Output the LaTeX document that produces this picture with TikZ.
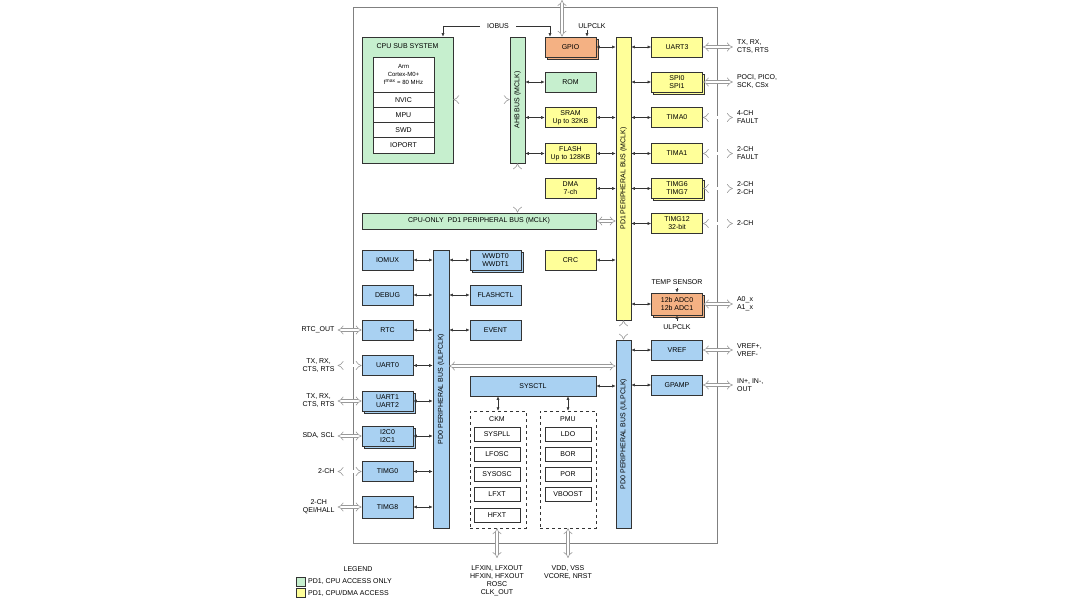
\documentclass[tikz,border=0pt]{standalone}
\usepackage{fontspec}
\setmainfont{Liberation Sans}
\usetikzlibrary{arrows.meta,shadows}
\definecolor{cg}{HTML}{C6EFCE}
\definecolor{cy}{HTML}{FFFF99}
\definecolor{co}{HTML}{F4B183}
\definecolor{cb}{HTML}{A9D1F2}
\definecolor{ln}{HTML}{333333}
\begin{document}
\begin{tikzpicture}[x=1pt,y=-1pt,font=\fontsize{7}{8}\selectfont,
 blk/.style={draw=ln,line width=0.7pt,inner sep=0pt,align=center,minimum width=51pt,minimum height=20pt},
 stk/.style={blk,copy shadow={shadow xshift=2pt,shadow yshift=-2pt,draw=ln,fill=#1},fill=#1},
 sub/.style={draw=ln,line width=0.6pt,fill=white,minimum width=46pt,minimum height=14pt,inner sep=0pt},
 bus/.style={draw=ln,line width=0.7pt,minimum width=15pt,inner sep=0pt},
 sa/.style={{Latex[length=3.5pt,width=3pt]}-{Latex[length=3.5pt,width=3pt]},line width=0.5pt,draw=ln},
 da/.style={draw=gray!80,double=white,double distance=2.5pt,line width=0.6pt,{Implies}-{Implies}},
 ea/.style={-{Latex[length=3.5pt,width=3pt]},line width=0.5pt,draw=ln},
 lbl/.style={align=left,anchor=west,inner sep=0pt}]
\useasboundingbox (0,0) rectangle (1076,601);
\node[draw=gray,line width=0.7pt,minimum width=364pt,minimum height=536pt,inner sep=0pt] (frame) at (535,275) {};
% CPU subsystem
\node[blk,fill=cg,minimum width=91pt,minimum height=126pt] (cpu) at (407.5,100) {};
\node at (407.5,46) {CPU SUB SYSTEM};
\node[sub,minimum width=61pt,minimum height=35pt,align=center,font=\fontsize{6}{8}\selectfont] (arm) at (403.5,74.5) {Arm\\Cortex-M0+\\f\textsuperscript{max} = 80 MHz};
\node[sub,minimum width=61pt,minimum height=15.25pt] (nvic) at (403.5,99.6) {NVIC};
\node[sub,minimum width=61pt,minimum height=15.25pt] (mpu) at (403.5,114.9) {MPU};
\node[sub,minimum width=61pt,minimum height=15.25pt] (swd) at (403.5,130.1) {SWD};
\node[sub,minimum width=61pt,minimum height=15.25pt] (ioport) at (403.5,145.4) {IOPORT};
% AHB
\node[bus,fill=cg,minimum height=126pt] (ahb) at (517.5,100) {};
\node[rotate=90] at (517.5,100) {AHB BUS (MCLK)};
\draw[da] (cpu.east|-nvic) -- (ahb.west|-nvic);
% memory column
\node[stk=co] (gpio) at (570.5,47) {GPIO};
\node[blk,fill=cg] (rom) at (570.5,82) {ROM};
\node[blk,fill=cy] (sram) at (570.5,117.5) {SRAM\\Up to 32KB};
\node[blk,fill=cy] (flash) at (570.5,153.5) {FLASH\\Up to 128KB};
\node[blk,fill=cy] (dma) at (570.5,188.5) {DMA\\7-ch};
\node[blk,fill=cy] (crc) at (570.5,260) {CRC};
\draw[sa] (ahb.east|-rom) -- (rom.west);
\draw[sa] (ahb.east|-sram) -- (sram.west);
\draw[sa] (ahb.east|-flash) -- (flash.west);
% IOBUS
\coordinate (io1) at (443,26); \coordinate (io2) at (550,26);
\draw[ln,line width=0.5pt] (io1) -- (480,26) (516,26) -- (io2);
\node (iobus) at (498,26) {IOBUS};
\draw[ea] (io1) -- (io1|-cpu.north);
\draw[ea] (io2) -- (io2|-gpio.north);
\coordinate (gtop) at (562,0);
\draw[da] (gtop) -- (gtop|-gpio.north);
\node (ulp1) at (592,26) {ULPCLK};
\coordinate (u1) at (587,30);
\draw[ea] (u1) -- (u1|-gpio.north);
% CPU-only bus
\node[blk,fill=cg,minimum width=234pt,minimum height=16pt] (cpub) at (479,221) {CPU-ONLY \ PD1 PERIPHERAL BUS (MCLK)};
\draw[da] (ahb.south) -- (ahb.south|-cpub.north);
% PD1 bus
\node[bus,fill=cy,minimum height=283pt] (pd1) at (623.5,178.5) {};
\node[rotate=90] at (623.5,178.5) {PD1 PERIPHERAL BUS (MCLK)};
\draw[da] (cpub.east) -- (pd1.west|-cpub.east);
\foreach \n in {gpio,sram,flash,dma,crc} \draw[sa] (\n.east) -- (pd1.west|-\n.east);
% right peripherals
\node[blk,fill=cy] (uart3) at (677,47) {UART3};
\node[stk=cy] (spi) at (677,82) {SPI0\\SPI1};
\node[blk,fill=cy] (tima0) at (677,117.5) {TIMA0};
\node[blk,fill=cy] (tima1) at (677,153.5) {TIMA1};
\node[stk=cy] (timg6) at (677,188.5) {TIMG6\\TIMG7};
\node[blk,fill=cy] (timg12) at (677,223.5) {TIMG12\\32-bit};
\node[stk=co,minimum height=22pt] (adc) at (677,304) {12b ADC0\\12b ADC1};
\node (temp) at (677,282) {TEMP SENSOR};
\node (ulp2) at (677,327) {ULPCLK};
\draw[ea] (temp.south) -- (adc.north);
\draw[ea] (ulp2.north) -- (adc.south);
\foreach \n in {uart3,spi,tima0,tima1,timg6,timg12,adc} \draw[sa] (pd1.east|-\n.west) -- (\n.west);
% PD0 right bus
\node[bus,fill=cb,minimum height=188pt] (pd0r) at (623.5,434) {};
\node[rotate=90] at (623.5,434) {PD0 PERIPHERAL BUS (ULPCLK)};
\draw[da] (pd1.south) -- (pd0r.north);
\node[blk,fill=cb] (vref) at (677,350) {VREF};
\node[blk,fill=cb] (gpamp) at (677,385) {GPAMP};
\draw[sa] (pd0r.east|-vref) -- (vref.west);
\draw[sa] (pd0r.east|-gpamp) -- (gpamp.west);
% right external
\foreach \n/\t in {uart3/{TX, RX,\\CTS, RTS},spi/{POCI, PICO,\\SCK, CSx},tima0/{4-CH\\FAULT},tima1/{2-CH\\FAULT},timg6/{2-CH\\2-CH},timg12/{2-CH},adc/{A0\_x\\A1\_x},vref/{VREF+,\\VREF-},gpamp/{IN+, IN-,\\OUT}}{
 \coordinate (r\n) at ([xshift=30pt]\n.east);
 \draw[da] (\n.east) -- (r\n);
 \node[lbl] at ([xshift=4pt]r\n) {\t};}
% PD0 left bus
\node[bus,fill=cb,minimum height=278pt,minimum width=16pt] (pd0l) at (441,389) {};
\node[rotate=90] at (441,389) {PD0 PERIPHERAL BUS (ULPCLK)};
\coordinate (h1) at (449,366);
\draw[da] (h1) -- (pd0r.west|-h1);
% left blocks
\node[blk,fill=cb] (iomux) at (387.5,260) {IOMUX};
\node[blk,fill=cb] (debug) at (387.5,295) {DEBUG};
\node[blk,fill=cb] (rtc) at (387.5,330) {RTC};
\node[blk,fill=cb] (uart0) at (387.5,365.5) {UART0};
\node[stk=cb] (uart1) at (387.5,401) {UART1\\UART2};
\node[stk=cb] (i2c) at (387.5,436) {I2C0\\I2C1};
\node[blk,fill=cb] (timg0) at (387.5,471.5) {TIMG0};
\node[blk,fill=cb,minimum height=22pt] (timg8) at (387.5,507) {TIMG8};
\foreach \n in {iomux,debug,rtc,uart0,uart1,i2c,timg0,timg8} \draw[sa] (\n.east) -- (pd0l.west|-\n.east);
\foreach \n/\t in {rtc/{RTC\_OUT},uart0/{TX, RX,\\CTS, RTS},uart1/{TX, RX,\\CTS, RTS},i2c/{SDA, SCL},timg0/{2-CH},timg8/{2-CH\\QEI/HALL}}{
 \coordinate (l\n) at ([xshift=-24pt]\n.west);
 \draw[da] (\n.west) -- (l\n);
 \node[align=center,anchor=east,inner sep=0pt] at ([xshift=-3pt]l\n) {\t};}
% middle column
\node[stk=cb] (wwdt) at (495.5,260) {WWDT0\\WWDT1};
\node[blk,fill=cb] (fctl) at (495.5,295) {FLASHCTL};
\node[blk,fill=cb] (event) at (495.5,330) {EVENT};
\foreach \n in {wwdt,fctl,event} \draw[sa] (pd0l.east|-\n.west) -- (\n.west);
% SYSCTL
\node[blk,fill=cb,minimum width=126pt] (sysctl) at (533,386) {SYSCTL};
\draw[sa] (sysctl.east) -- (pd0r.west|-sysctl.east);
\node[draw=ln,dashed,line width=0.5pt,minimum width=56pt,minimum height=117pt,inner sep=0pt] (ckm) at (498,469.5) {};
\node[draw=ln,dashed,line width=0.5pt,minimum width=56pt,minimum height=117pt,inner sep=0pt] (pmu) at (568,469.5) {};
\node at (497,419) {CKM};
\node at (568,419) {PMU};
\draw[sa] (sysctl.south-|ckm) -- (ckm.north);
\draw[sa] (sysctl.south-|pmu) -- (pmu.north);
\node[sub] (syspll) at (497,434) {SYSPLL};
\node[sub] (lfosc) at (497,454.5) {LFOSC};
\node[sub] (sysosc) at (497,474.5) {SYSOSC};
\node[sub] (lfxt) at (497,494.5) {LFXT};
\node[sub] (hfxt) at (497,515) {HFXT};
\node[sub] (ldo) at (568,434) {LDO};
\node[sub] (bor) at (568,454.5) {BOR};
\node[sub] (por) at (568,474.5) {POR};
\node[sub] (vboost) at (568,494.5) {VBOOST};
\coordinate (cb1) at (497,558); \coordinate (cb2) at (568,558);
\draw[da] (ckm.south-|cb1) -- (cb1);
\draw[da] (pmu.south-|cb2) -- (cb2);
\node[align=center,anchor=north,inner sep=0pt] at (497,565) {LFXIN, LFXOUT\\HFXIN, HFXOUT\\ROSC\\CLK\_OUT};
\node[align=center,anchor=north,inner sep=0pt] at (568,565) {VDD, VSS\\VCORE, NRST};
% legend
\node (leg) at (358,569) {LEGEND};
\node[draw=ln,fill=cg,minimum size=9pt,inner sep=0pt] (lg1) at (301,582) {};
\node[draw=ln,fill=cy,minimum size=9pt,inner sep=0pt] (lg2) at (301,593) {};
\node[lbl] at (308,582) {PD1, CPU ACCESS ONLY};
\node[lbl] at (308,593) {PD1, CPU/DMA ACCESS};
\end{tikzpicture}
\end{document}
